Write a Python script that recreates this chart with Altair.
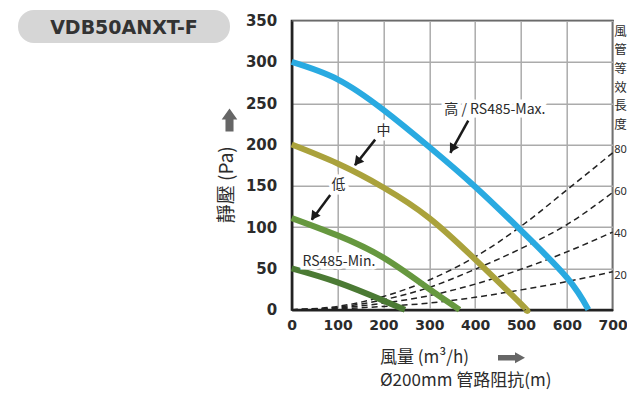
import altair as alt
import pandas as pd

# ---------------- data ----------------
# fan curves (airflow m3/h, static pressure Pa)
high_q = [0, 100, 200, 300, 400, 500, 600, 647]
high_p = [300, 279, 242, 197, 149, 96, 39, 0]
mid_q = [0, 100, 200, 300, 400, 500, 510]
mid_p = [200, 177, 148, 111, 61, 7, 0]
low_q = [0, 100, 200, 300, 366]
low_p = [111, 90, 63, 25, 0]
min_q = [0, 100, 200, 247]
min_p = [50, 33, 11, 0]

series_names = ["高", "中", "低", "RS485-Min."]
series_colors = ["#29aae1", "#aaa23c", "#66983f", "#4b7a34"]

# duct resistance curves (equivalent duct length m)
duct_q = [0, 100, 200, 300, 400, 500, 600, 700]
duct_80 = [0, 4, 16, 36, 64, 101, 145, 190]
duct_60 = [0, 3, 12, 27, 49, 74, 103, 142]
duct_40 = [0, 2, 8, 17, 31, 49, 70, 94]
duct_20 = [0, 1, 4, 8, 15, 24, 34, 46]
duct_lengths = ["80", "60", "40", "20"]
duct_label_p = [194, 143, 92, 41]

# curve labels
label_text = ["高 / RS485-Max.", "中", "低", "RS485-Min."]
label_q = [443, 200, 102, 103]
label_p = [242, 216, 151, 58]

# label arrows: start -> tip, head position and angle
arrow_q = [385, 182, 84]
arrow_p = [229, 206, 139]
arrow_q2 = [346, 138, 44]
arrow_p2 = [190, 175, 109]
head_q = [350, 143, 48]
head_p = [195, 179, 113]
head_angle = [210, 219, 216]

x_ticks = [0, 100, 200, 300, 400, 500, 600, 700]
y_ticks = [0, 50, 100, 150, 200, 250, 300, 350]

# ---------------- tables ----------------
rows = []
for name, qs, ps in zip(series_names, [high_q, mid_q, low_q, min_q],
                        [high_p, mid_p, low_p, min_p]):
    for q, p in zip(qs, ps):
        rows.append({"series": name, "Q": q, "P": p})
curves = pd.DataFrame(rows)

drows = []
for L, ps in zip(duct_lengths, [duct_80, duct_60, duct_40, duct_20]):
    for q, p in zip(duct_q, ps):
        drows.append({"L": L, "Q": q, "P": p})
ducts = pd.DataFrame(drows)
duct_labels = pd.DataFrame({"L": duct_lengths, "Q": [700] * 4, "P": duct_label_p})

labels = pd.DataFrame({"text": label_text, "Q": label_q, "P": label_p})
arrows = pd.DataFrame({"Q": arrow_q, "P": arrow_p, "Q2": arrow_q2, "P2": arrow_p2})
heads = pd.DataFrame({"Q": head_q, "P": head_p, "angle": head_angle})
one = pd.DataFrame({"t": [0]})

# ---------------- scales / axes ----------------
W, H = 321, 289
xs = alt.Scale(domain=[0, 700], nice=False, zero=False)
ys = alt.Scale(domain=[0, 350], nice=False)
xa = alt.Axis(values=x_ticks, title=None, grid=True, gridColor="#ababab", gridWidth=1.5,
              ticks=False, domainColor="#222", domainWidth=2.5, labelFont="DejaVu Sans",
              labelFontWeight="bold", labelFontSize=14, labelColor="#2b2b2b",
              labelPadding=9, labelFlush=False)
ya = alt.Axis(values=y_ticks, title=None, grid=True, gridColor="#ababab", gridWidth=1.5,
              ticks=False, domainColor="#222", domainWidth=2.5, labelFont="DejaVu Sans",
              labelFontWeight="bold", labelFontSize=15, labelColor="#2b2b2b",
              labelPadding=15, labelFlush=False)
X = alt.X("Q:Q", scale=xs, axis=xa)
Y = alt.Y("P:Q", scale=ys, axis=ya)

CJK = "Noto Sans CJK TC"

duct_layer = alt.Chart(ducts).mark_line(
    color="#222", strokeWidth=1.5, strokeDash=[6, 4], interpolate="monotone"
).encode(x=X, y=Y, detail="L:N")

curve_layer = alt.Chart(curves).mark_line(
    strokeWidth=6, interpolate="natural", strokeCap="butt"
).encode(
    x=X, y=Y,
    color=alt.Color("series:N", scale=alt.Scale(domain=series_names, range=series_colors),
                    legend=None),
    detail="series:N",
)

label_halo = alt.Chart(labels).mark_text(
    font=CJK, fontSize=14, color="white", stroke="white", strokeWidth=7,
    baseline="middle"
).encode(x=X, y=Y, text="text:N")
label_layer = alt.Chart(labels).mark_text(
    font=CJK, fontSize=14, color="#2b2b2b", baseline="middle"
).encode(x=X, y=Y, text="text:N")

arrow_layer = alt.Chart(arrows).mark_rule(color="#1a1a1a", strokeWidth=2.5).encode(
    x=X, y=Y, x2="Q2:Q", y2="P2:Q")
head_layer = alt.Chart(heads).mark_point(
    shape="triangle-up", filled=True, color="#1a1a1a", size=110, opacity=1
).encode(x=X, y=Y, angle=alt.Angle("angle:Q", scale=None))

duct_label_layer = alt.Chart(duct_labels).mark_text(
    font="Noto Sans", fontSize=11, color="#2b2b2b", align="left", baseline="middle", dx=1.5
).encode(x=X, y=Y, text="L:N")

# decorations positioned in pixels relative to plot origin
pill = alt.Chart(one).mark_rect(color="#d6d6d6", cornerRadius=16).encode(
    x=alt.value(-273.7), x2=alt.value(-61.7), y=alt.value(-10.7), y2=alt.value(22.3))
pill_text = alt.Chart(one).mark_text(
    text="VDB50ANXT-F", font="DejaVu Sans", fontWeight="bold", fontSize=19,
    color="#333", align="center", baseline="middle"
).encode(x=alt.value(-167.7), y=alt.value(6.8))

y_title = alt.Chart(one).mark_text(
    text="靜壓 (Pa)", font=CJK, fontSize=19, color="#2b2b2b", angle=270,
    align="center", baseline="middle"
).encode(x=alt.value(-64.5), y=alt.value(164))

up_arrow = alt.Chart(one).mark_point(
    shape="M0,-1 L0.68,-0.04 L0.35,-0.04 L0.35,1 L-0.35,1 L-0.35,-0.04 L-0.68,-0.04 Z",
    filled=True, color="#666", size=529, opacity=1
).encode(x=alt.value(-62.2), y=alt.value(99.3))

x_title1 = alt.Chart(one).mark_text(
    text="風量 (m³/h)", font=CJK, fontSize=17, color="#2b2b2b", align="left",
    baseline="middle"
).encode(x=alt.value(88.3), y=alt.value(337))
x_title2 = alt.Chart(one).mark_text(
    text="Ø200mm 管路阻抗(m)", font=CJK, fontSize=17, color="#2b2b2b", align="left",
    baseline="middle"
).encode(x=alt.value(88.3), y=alt.value(360.5))
right_arrow = alt.Chart(one).mark_point(
    shape="M1,0 L0.26,0.41 L0.26,0.2 L-1,0.2 L-1,-0.2 L0.26,-0.2 L0.26,-0.41 Z",
    filled=True, color="#666", size=729, opacity=1
).encode(x=alt.value(219.8), y=alt.value(337))

right_title = alt.Chart(one).mark_text(
    text="風\n管\n等\n效\n長\n度", lineBreak="\n", lineHeight=18.7, font=CJK,
    fontSize=12.5, color="#2b2b2b", align="left", baseline="middle"
).encode(x=alt.value(W + 1.5), y=alt.value(11))

chart = alt.layer(
    duct_layer, curve_layer, label_halo, label_layer, arrow_layer, head_layer,
    duct_label_layer, pill, pill_text, y_title, up_arrow, x_title1, x_title2,
    right_arrow, right_title
).properties(
    width=W, height=H,
    padding={"left": 283.7, "top": 12.7, "right": 14.3, "bottom": 81.3},
    autosize=alt.AutoSizeParams(type="none"),
    background="white",
).configure_view(stroke="#2b2b2b", strokeWidth=2)

chart.save("out.html", embed_options={"renderer": "svg", "actions": False})
